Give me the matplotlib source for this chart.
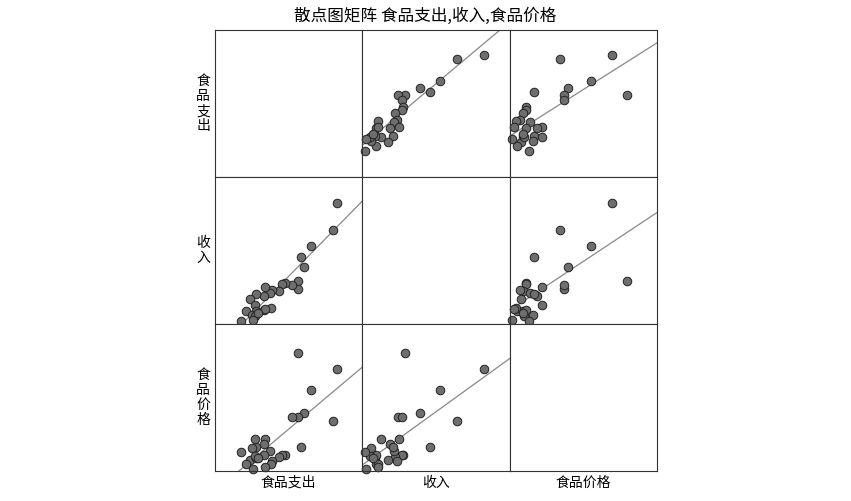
import numpy as np
import matplotlib
matplotlib.use("Agg")
import matplotlib.pyplot as plt
plt.rcParams['font.family'] = ['Noto Sans CJK SC', 'DejaVu Sans']

food = [368,355,290,258,268,249,249,233,211,201,194,172,167,152,149,123,106,122,93,125,148,170,110,121,114,78,150,130]
income = [366,285,235,203,173,129,107,119,123,121,99,104,94,111,84,92,77,56,40,39,41,47,26,24,11,8,46,32]
price = [307,152,244,72,176,355,164,164,49,48,41,31,61,96,82,72,34,97,22,40,48,20,69,44,7,58,13,39]
names = ['食品支出', '收入', '食品价格']
data = [np.array(food,float), np.array(income,float), np.array(price,float)]

fig = plt.figure(figsize=(8.51,5.01), dpi=100)
L, B, W, H = 215/851, 30/501, 442/851, 441/501
cw, ch = W/3, H/3
for i in range(3):
    for j in range(3):
        ax = fig.add_axes([L+j*cw, B+(2-i)*ch, cw, ch])
        ax.set_xlim(0,444); ax.set_ylim(0,444)
        ax.set_xticks([]); ax.set_yticks([])
        for s in ax.spines.values():
            s.set_color('#333333'); s.set_linewidth(0.8)
        if i != j:
            x, y = data[j], data[i]
            k, b = np.polyfit(x, y, 1)
            xs = np.array([0,444])
            ax.plot(xs, k*xs+b, color='#888888', lw=0.9, zorder=1)
            ax.scatter(x, y, s=38, color='#6e6e6e', edgecolor='#222222', linewidth=0.7, zorder=2, clip_on=False)
        if j == 0:
            ax.text(-0.08, 0.5, '\n'.join(names[i]), transform=ax.transAxes, ha='center', va='center', fontsize=10, linespacing=1.1)
        if i == 2:
            ax.text(0.5, -0.08, names[j], transform=ax.transAxes, ha='center', va='center', fontsize=10)
fig.text(0.5, 1-16/501, '散点图矩阵 食品支出,收入,食品价格', ha='center', va='center', fontsize=12)
fig.savefig('out.png', dpi=100)
